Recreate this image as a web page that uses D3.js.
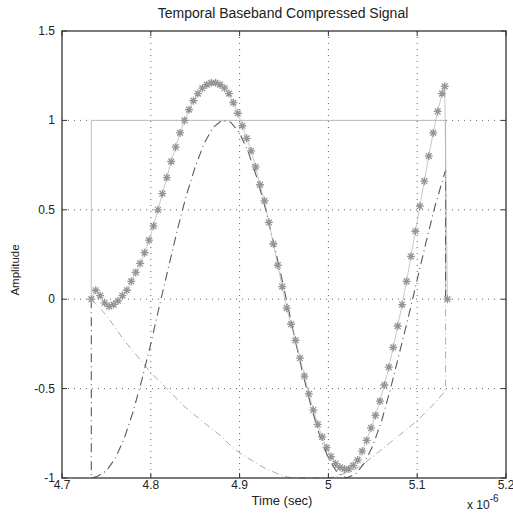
<!DOCTYPE html>
<html>
<head>
<meta charset="utf-8">
<script src="https://cdn.jsdelivr.net/npm/d3@7"></script>
<style>
  body { margin: 0; background: #fff; }
  text { font-family: "Liberation Sans", Arial, sans-serif; fill: #222; }
</style>
</head>
<body>
<script>
// tick labels
var xTicks = [4.7, 4.8, 4.9, 5.0, 5.1, 5.2];
var xTickLabels = ["4.7", "4.8", "4.9", "5", "5.1", "5.2"];
var yTicks = [-1, -0.5, 0, 0.5, 1, 1.5];
var yTickLabels = ["-1", "-0.5", "0", "0.5", "1", "1.5"];

// rectangular envelope (time in 1e-6 s)
var rectT = [4.733, 4.733, 5.132, 5.132];
var rectV = [0, 1, 1, 0];

// chirp real part (dashed)
var chirpT = [4.733, 4.733, 4.74, 4.75, 4.76, 4.77, 4.78, 4.79, 4.80, 4.81, 4.82, 4.83, 4.84, 4.85,
  4.86, 4.87, 4.88, 4.89, 4.90, 4.91, 4.92, 4.93, 4.94, 4.95, 4.96, 4.97, 4.98, 4.99, 5.00,
  5.01, 5.02, 5.03, 5.04, 5.05, 5.06, 5.07, 5.08, 5.09, 5.10, 5.11, 5.12, 5.13, 5.132, 5.132];
var chirpV = [0, -1, -0.99, -0.96, -0.89, -0.78, -0.63, -0.45, -0.25, -0.03, 0.18, 0.39, 0.58, 0.74,
  0.87, 0.96, 1.00, 0.99, 0.93, 0.82, 0.67, 0.49, 0.28, 0.06, -0.17, -0.39, -0.59, -0.76, -0.89,
  -0.97, -1.00, -0.98, -0.92, -0.82, -0.68, -0.50, -0.30, -0.10, 0.11, 0.32, 0.52, 0.69, 0.72, 0];

// slow curve (light dash-dot)
var phaseT = [4.733, 4.75, 4.76, 4.77, 4.78, 4.79, 4.80, 4.81, 4.82, 4.83, 4.84, 4.85, 4.86, 4.87,
  4.88, 4.89, 4.90, 4.91, 4.92, 4.93, 4.94, 4.95, 4.96, 4.97, 4.98, 4.99, 5.00, 5.01, 5.02,
  5.03, 5.04, 5.05, 5.06, 5.07, 5.08, 5.09, 5.10, 5.11, 5.12, 5.132, 5.132];
var phaseV = [0, -0.09, -0.16, -0.23, -0.29, -0.35, -0.41, -0.46, -0.51, -0.56, -0.61, -0.65, -0.69, -0.73,
  -0.77, -0.82, -0.86, -0.89, -0.92, -0.95, -0.97, -0.99, -1.00, -1.00, -1.00, -1.00, -1.00, -0.99, -0.97,
  -0.95, -0.92, -0.88, -0.84, -0.80, -0.76, -0.72, -0.68, -0.63, -0.58, -0.51, 0];

// compressed signal (asterisks)
var sigT = [4.733, 4.738, 4.743, 4.748, 4.753, 4.758, 4.763, 4.768, 4.773, 4.778,
  4.783, 4.788, 4.793, 4.798, 4.803, 4.808, 4.813, 4.818, 4.823, 4.828,
  4.833, 4.838, 4.843, 4.848, 4.853, 4.858, 4.863, 4.868, 4.873, 4.878,
  4.883, 4.888, 4.893, 4.898, 4.903, 4.908, 4.913, 4.918, 4.923, 4.928,
  4.933, 4.938, 4.943, 4.948, 4.953, 4.958, 4.963, 4.968, 4.973, 4.978,
  4.983, 4.988, 4.993, 4.998, 5.003, 5.008, 5.013, 5.018, 5.023, 5.028,
  5.033, 5.038, 5.043, 5.048, 5.053, 5.058, 5.063, 5.068, 5.073, 5.078,
  5.083, 5.088, 5.093, 5.098, 5.103, 5.108, 5.113, 5.118, 5.123, 5.128,
  5.131, 5.134];
var sigV = [0.00, 0.05, 0.02, -0.02, -0.04, -0.03, -0.01, 0.02, 0.05, 0.10,
  0.15, 0.20, 0.26, 0.33, 0.41, 0.50, 0.59, 0.68, 0.77, 0.85,
  0.93, 1.00, 1.06, 1.11, 1.15, 1.18, 1.20, 1.21, 1.21, 1.20,
  1.18, 1.15, 1.10, 1.04, 0.97, 0.90, 0.83, 0.74, 0.64, 0.55,
  0.43, 0.31, 0.19, 0.07, -0.05, -0.14, -0.23, -0.33, -0.43, -0.53,
  -0.62, -0.70, -0.77, -0.83, -0.88, -0.92, -0.94, -0.95, -0.95, -0.93,
  -0.90, -0.85, -0.79, -0.72, -0.65, -0.57, -0.48, -0.38, -0.27, -0.15,
  -0.03, 0.10, 0.24, 0.38, 0.52, 0.66, 0.80, 0.93, 1.05, 1.15,
  1.19, 0.00];

var w = 513, h = 521;
var padLeft = 62, padRight = 506, padTop = 31, padBottom = 478;

var svg = d3.select("body").append("svg")
  .attr("width", w)
  .attr("height", h);

var x = d3.scaleLinear().domain([4.7, 5.2]).range([padLeft, padRight]);
var y = d3.scaleLinear().domain([-1, 1.5]).range([padBottom, padTop]);

function zip(ts, vs) {
  return ts.map(function(t, i) { return [t, vs[i]]; });
}

var line = d3.line()
  .x(function(d) { return x(d[0]); })
  .y(function(d) { return y(d[1]); });

// grid
svg.append("g")
  .selectAll("line")
  .data(xTicks.slice(1, -1))
  .enter().append("line")
  .attr("x1", function(d) { return x(d); })
  .attr("x2", function(d) { return x(d); })
  .attr("y1", padTop).attr("y2", padBottom)
  .attr("stroke", "#555").attr("stroke-width", 0.9)
  .attr("stroke-dasharray", "1,5");

svg.append("g")
  .selectAll("line")
  .data(yTicks.slice(1, -1))
  .enter().append("line")
  .attr("y1", function(d) { return y(d); })
  .attr("y2", function(d) { return y(d); })
  .attr("x1", padLeft).attr("x2", padRight)
  .attr("stroke", "#555").attr("stroke-width", 0.9)
  .attr("stroke-dasharray", "1,5");

// curves
svg.append("path")
  .attr("d", line(zip(rectT, rectV)))
  .attr("fill", "none").attr("stroke", "#bdbdbd").attr("stroke-width", 1);

svg.append("path")
  .attr("d", line(zip(phaseT, phaseV)))
  .attr("fill", "none").attr("stroke", "#a0a0a0").attr("stroke-width", 0.9)
  .attr("stroke-dasharray", "7,3,1,3");

svg.append("path")
  .attr("d", line(zip(chirpT, chirpV)))
  .attr("fill", "none").attr("stroke", "#5a5a5a").attr("stroke-width", 1.1)
  .attr("stroke-dasharray", "9,4,1,4");

var sig = zip(sigT, sigV);
svg.append("path")
  .attr("d", line(sig))
  .attr("fill", "none").attr("stroke", "#b0b0b0").attr("stroke-width", 0.7);

var s = 4, d2 = 2.9;
var star = "M" + (-s) + ",0L" + s + ",0M0," + (-s) + "L0," + s +
  "M" + (-d2) + "," + (-d2) + "L" + d2 + "," + d2 +
  "M" + (-d2) + "," + d2 + "L" + d2 + "," + (-d2);

svg.append("g")
  .selectAll("path")
  .data(sig)
  .enter().append("path")
  .attr("transform", function(d) { return "translate(" + x(d[0]) + "," + y(d[1]) + ")"; })
  .attr("d", star)
  .attr("fill", "none")
  .attr("stroke", "#959595")
  .attr("stroke-width", 1.3);

// axes box and ticks
svg.append("rect")
  .attr("x", padLeft).attr("y", padTop)
  .attr("width", padRight - padLeft).attr("height", padBottom - padTop)
  .attr("fill", "none").attr("stroke", "#333").attr("stroke-width", 1.3);

var ticks = svg.append("g").attr("stroke", "#333").attr("stroke-width", 1);
xTicks.forEach(function(t) {
  ticks.append("line").attr("x1", x(t)).attr("x2", x(t)).attr("y1", padBottom).attr("y2", padBottom - 5);
  ticks.append("line").attr("x1", x(t)).attr("x2", x(t)).attr("y1", padTop).attr("y2", padTop + 5);
});
yTicks.forEach(function(t) {
  ticks.append("line").attr("x1", padLeft).attr("x2", padLeft + 5).attr("y1", y(t)).attr("y2", y(t));
  ticks.append("line").attr("x1", padRight).attr("x2", padRight - 5).attr("y1", y(t)).attr("y2", y(t));
});

// tick labels
svg.append("g")
  .selectAll("text")
  .data(xTicks)
  .enter().append("text")
  .attr("x", function(d) { return x(d); })
  .attr("y", padBottom + 11)
  .attr("text-anchor", "middle")
  .attr("font-size", 12)
  .text(function(d, i) { return xTickLabels[i]; });

svg.append("g")
  .selectAll("text")
  .data(yTicks)
  .enter().append("text")
  .attr("x", padLeft - 7)
  .attr("y", function(d) { return y(d) + 4; })
  .attr("text-anchor", "end")
  .attr("font-size", 12)
  .text(function(d, i) { return yTickLabels[i]; });

// titles
svg.append("text")
  .attr("x", 283).attr("y", 18)
  .attr("text-anchor", "middle")
  .attr("font-size", 14)
  .text("Temporal Baseband Compressed Signal");

svg.append("text")
  .attr("x", 282).attr("y", 505)
  .attr("text-anchor", "middle")
  .attr("font-size", 13)
  .text("Time (sec)");

var exp = svg.append("text")
  .attr("x", 467).attr("y", 509)
  .attr("font-size", 12);
exp.append("tspan").text("x 10");
exp.append("tspan").attr("dy", -7).attr("font-size", 10).text("-6");

svg.append("text")
  .attr("transform", "translate(19,270) rotate(-90)")
  .attr("text-anchor", "middle")
  .attr("font-size", 11.5)
  .text("Amplitude");
</script>
</body>
</html>
